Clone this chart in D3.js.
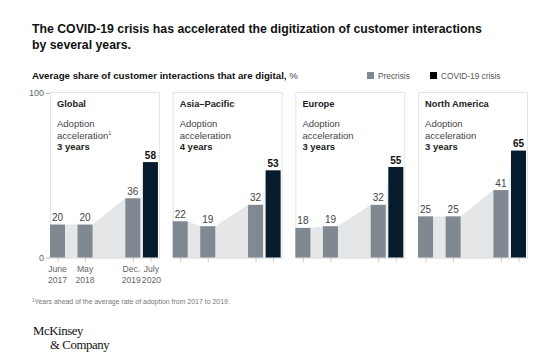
<!DOCTYPE html>
<html>
<head>
<meta charset="utf-8">
<script src="https://cdn.jsdelivr.net/npm/d3@7"></script>
<style>
  html, body { margin: 0; padding: 0; background: #fff; }
  svg { display: block; font-family: "Liberation Sans", Arial, sans-serif; }
</style>
</head>
<body>
<svg id="chart" width="554" height="364"></svg>
<script>
// ---- data ----
const regions = ["Global", "Asia\u2013Pacific", "Europe", "North America"];
const accelerationYears = ["3 years", "4 years", "3 years", "3 years"];
const periodDates = ["2017-06", "2018-05", "2019-12", "2020-07"];
const periodMonths = ["June", "May", "Dec.", "July"];
const periodYears = ["2017", "2018", "2019", "2020"];
const globalValues = [20, 20, 36, 58];
const asiaPacificValues = [22, 19, 32, 53];
const europeValues = [18, 19, 32, 55];
const northAmericaValues = [25, 25, 41, 65];
const yTickValues = [0, 100];
const seriesNames = ["Precrisis", "COVID-19 crisis"];

const regionValues = [globalValues, asiaPacificValues, europeValues, northAmericaValues];

// ---- styles ----
const colPre = "#808991";
const colCovid = "#061b2c";
const colArea = "#e5e6e8";
const colArea2 = "#eff1f3";
const colBox = "#e3e3e3";
const colText = "#222";
const colGrey = "#666";

const svg = d3.select("#chart");
const parse = d3.timeParse("%Y-%m");
const dates = periodDates.map(parse);

function fit(sel, target) {
  const n = sel.node();
  const w = n.getComputedTextLength();
  const fs = parseFloat(sel.attr("font-size"));
  sel.attr("font-size", (fs * target / w).toFixed(2));
}

// ---- title ----
const t1 = svg.append("text").attr("x", 32).attr("y", 33).attr("font-size", 15)
  .attr("font-weight", "bold").attr("fill", "#111")
  .text("The COVID-19 crisis has accelerated the digitization of customer interactions");
fit(t1, 450);
const tfs = t1.attr("font-size");
svg.append("text").attr("x", 32).attr("y", 49).attr("font-size", tfs)
  .attr("font-weight", "bold").attr("fill", "#111").text("by several years.");

// subtitle
const sub = svg.append("text").attr("x", 32).attr("y", 79).attr("font-size", 11).attr("fill", "#111");
sub.append("tspan").attr("font-weight", "bold").text("Average share of customer interactions that are digital,");
sub.append("tspan").attr("fill", "#444").text(" %");
fit(sub, 266);

// legend
const legend = svg.append("g");
const legX = [367, 430];
seriesNames.forEach((name, i) => {
  legend.append("rect").attr("x", legX[i]).attr("y", 72).attr("width", 7).attr("height", 7)
    .attr("fill", i === 0 ? colPre : "#000");
  legend.append("text").attr("x", legX[i] + 11).attr("y", 79).attr("font-size", 8.3)
    .attr("fill", "#555").text(name);
});

// ---- scales ----
const y = d3.scaleLinear().domain([0, 100]).range([257.5, 93]);
const panelX = d3.scaleBand().domain(regions).range([50, 528]).paddingInner(0.104).paddingOuter(0);
const barW = 15;
const x = d3.scaleTime().domain([dates[0], dates[3]]).range([barW / 2, panelX.bandwidth() - barW / 2 - 2]);

// y axis (left of first panel)
const yAxis = d3.axisLeft(y).tickValues(yTickValues).tickSize(4).tickPadding(2);
const ya = svg.append("g").attr("transform", `translate(${panelX(regions[0])},0)`).call(yAxis);
ya.select(".domain").remove();
ya.selectAll("line").attr("stroke", "#bbb");
ya.selectAll("text").attr("font-size", 9).attr("fill", colGrey).attr("font-family", "Liberation Sans, Arial, sans-serif");

// ---- panels ----
regions.forEach((region, r) => {
  const vals = regionValues[r];
  const g = svg.append("g").attr("transform", `translate(${panelX(region)},0)`);
  const bw = panelX.bandwidth();

  // box
  g.append("path")
    .attr("d", `M0.5,${y(0)} V${y(100) - 0.5} H${bw - 0.5} V${y(0)}`)
    .attr("fill", "none").attr("stroke", colBox).attr("stroke-width", 1);

  // area connecting precrisis bars
  const pts = [];
  for (let i = 0; i < 3; i++) {
    pts.push([x(dates[i]) - barW / 2, vals[i]]);
    pts.push([x(dates[i]) + barW / 2, vals[i]]);
  }
  const area = d3.area().x(d => d[0]).y0(y(0)).y1(d => y(d[1]));
  g.append("path").datum(pts).attr("d", area).attr("fill", colArea);
  const pts2 = [[x(dates[2]) + barW / 2, vals[2]], [x(dates[3]) - barW / 2, vals[3]]];
  g.append("path").datum(pts2).attr("d", area).attr("fill", colArea2);

  // baseline
  g.append("line").attr("x1", 0).attr("x2", bw).attr("y1", y(0) + 0.5).attr("y2", y(0) + 0.5)
    .attr("stroke", "#d5d5d5");

  // x ticks
  const xAxis = d3.axisBottom(x).tickValues(dates).tickSize(5).tickFormat("");
  const xa = g.append("g").attr("transform", `translate(0,${y(0)})`).call(xAxis);
  xa.select(".domain").remove();
  xa.selectAll("line").attr("stroke", "#ccc");

  // bars
  g.selectAll("rect.bar").data(vals).join("rect").attr("class", "bar")
    .attr("x", (d, i) => x(dates[i]) - barW / 2)
    .attr("y", d => y(d))
    .attr("width", barW)
    .attr("height", d => y(0) - y(d))
    .attr("fill", (d, i) => i === 3 ? colCovid : colPre);

  // value labels
  g.selectAll("text.val").data(vals).join("text").attr("class", "val")
    .attr("x", (d, i) => x(dates[i]))
    .attr("y", d => y(d) - 3.5)
    .attr("text-anchor", "middle")
    .attr("font-size", 10)
    .attr("font-weight", (d, i) => i === 3 ? "bold" : "normal")
    .attr("fill", (d, i) => i === 3 ? "#111" : "#444")
    .text(d => d);

  // panel text
  g.append("text").attr("x", 7).attr("y", 107).attr("font-size", 9.3).attr("font-weight", "bold")
    .attr("fill", colText).text(region);
  g.append("text").attr("x", 7).attr("y", 127).attr("font-size", 9.5).attr("fill", "#444").text("Adoption");
  const acc = g.append("text").attr("x", 7).attr("y", 138.5).attr("font-size", 9.5).attr("fill", "#444").text("acceleration");
  if (r === 0) acc.append("tspan").attr("font-size", 5.5).attr("dy", -4).text("1");
  g.append("text").attr("x", 7).attr("y", 150).attr("font-size", 9.5).attr("font-weight", "bold")
    .attr("fill", colText).text(accelerationYears[r]);

  // x labels only for first panel
  if (r === 0) {
    const nudge = [0, 0, -1.5, 1];
    dates.forEach((d, i) => {
      g.append("text").attr("x", x(d) + nudge[i]).attr("y", 272).attr("text-anchor", "middle")
        .attr("font-size", 8.6).attr("fill", colGrey).text(periodMonths[i]);
      g.append("text").attr("x", x(d) + nudge[i]).attr("y", 283).attr("text-anchor", "middle")
        .attr("font-size", 8.6).attr("fill", colGrey).text(periodYears[i]);
    });
  }
});

// footnote
const fn = svg.append("text").attr("x", 32).attr("y", 304).attr("font-size", 7).attr("fill", "#777");
fn.append("tspan").attr("font-size", 4.5).attr("dy", -2.5).text("1");
fn.append("tspan").attr("dy", 2.5).text("Years ahead of the average rate of adoption from 2017 to 2019.");
fit(fn, 198);

// logo
svg.append("text").attr("x", 33).attr("y", 335).attr("font-family", "Liberation Serif, Times New Roman, serif")
  .attr("font-size", 12.8).attr("letter-spacing", -0.4).attr("fill", "#111").text("McKinsey");
svg.append("text").attr("x", 50).attr("y", 348.5).attr("font-family", "Liberation Serif, Times New Roman, serif")
  .attr("font-size", 12.8).attr("letter-spacing", -0.4).attr("fill", "#111").text("& Company");
</script>
</body>
</html>
